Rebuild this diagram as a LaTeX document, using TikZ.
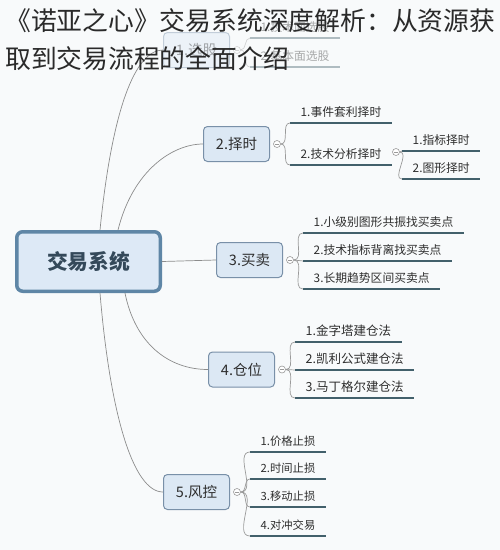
\documentclass[tikz,border=0pt]{standalone}
\usepackage{fontspec}
\newfontfamily\cjk{Noto Sans CJK SC}
\definecolor{bg}{HTML}{F8FAFB}
\definecolor{subfill}{HTML}{DCE8F4}
\definecolor{subline}{HTML}{7990A8}
\definecolor{mainfill}{HTML}{DDE9F6}
\definecolor{mainline}{HTML}{5F86A6}
\definecolor{maintxt}{HTML}{34495A}
\definecolor{ulc}{HTML}{42606B}
\definecolor{connc}{HTML}{8C8C8C}
\definecolor{knobc}{HTML}{9A9A9A}
\definecolor{txt}{HTML}{2E2E2E}
\definecolor{titlec}{HTML}{2A2A2A}
\begin{document}
\begin{tikzpicture}[x=1pt,y=-1pt,font=\cjk,
 subbox/.style={draw=subline, line width=1pt, fill=subfill, rounded corners=4pt,
   minimum width=66pt, minimum height=35pt, inner sep=0pt,
   font=\cjk\fontsize{14.5}{16}\selectfont, text=txt},
 leaf/.style={anchor=south west, inner xsep=10.5pt, inner ysep=5pt,
   font=\cjk\fontsize{11.8}{13}\selectfont, text=txt},
 leafb/.style={leaf, font=\cjk\fontsize{12.5}{14}\selectfont},
 leafs/.style={leaf, font=\cjk\fontsize{11.3}{13}\selectfont},
 uline/.style={draw=ulc, line width=1.8pt},
 conn/.style={draw=connc, line width=0.7pt},
 brace/.style={draw=knobc, line width=0.7pt},
 knob/.style={circle, draw=knobc, fill=white, line width=0.6pt, minimum size=7pt, inner sep=0pt,
   path picture={\draw[knobc, line width=0.5pt] ([xshift=-2pt]path picture bounding box.center) -- ([xshift=2pt]path picture bounding box.center);}},
]
\useasboundingbox[fill=bg] (0,0) rectangle (500,550);

% main node
\node[draw=mainline, line width=3.5pt, fill=mainfill, rounded corners=6pt,
  minimum width=143.5pt, minimum height=59.5pt, inner sep=0pt,
  font=\cjk\bfseries\fontsize{20.75}{24}\selectfont, text=maintxt] (main) at (88.5,261.5) {交易系统};

% faded branch 1
\begin{scope}[opacity=0.4]
\node[subbox] (s1) at (196.5,50) {1.选股};
\node[knob] (k1) at ([xshift=7pt]s1.east) {};
\node[leaf] (c11) at (250,38) {1.技术面选股};
\node[leaf] (c12) at (250,67) {2.基本面选股};
\draw[uline] (c11.south west) -- (c11.south east);
\draw[uline] (c12.south west) -- (c12.south east);
\draw[brace] (k1.east) to[out=0,in=180] (c11.south west);
\draw[brace] (k1.east) to[out=0,in=180] (c12.south west);
\end{scope}
\draw[conn] ([xshift=11.5pt]main.north) .. controls +(12,-120) and +(-28,0) .. (s1.west);

% sub nodes
\node[subbox] (s2) at (236.5,144) {2.择时};
\node[subbox] (s3) at (249.5,260) {3.买卖};
\node[subbox] (s4) at (241.5,369.5) {4.仓位};
\node[subbox] (s5) at (196.5,492) {5.风控};

\draw[conn] ([xshift=29.5pt]main.north) .. controls +(15,-60) and +(-30,0) .. (s2.west);
\draw[conn] (main.east) -- (s3.west);
\draw[conn] ([xshift=36.5pt]main.south) .. controls +(10,50) and +(-40,0) .. (s4.west);
\draw[conn] ([xshift=11.5pt]main.south) .. controls +(10,120) and +(-30,0) .. (s5.west);

% knobs
\node[knob] (k2) at ([xshift=7pt]s2.east) {};
\node[knob] (k3) at ([xshift=7pt]s3.east) {};
\node[knob] (k4) at ([xshift=7pt]s4.east) {};
\node[knob] (k5) at ([xshift=7pt]s5.east) {};

% branch 2
\node[leaf] (c21) at (290,123) {1.事件套利择时};
\node[leaf] (c22) at (290,165) {2.技术分析择时};
\node[knob] (k22) at (396,152) {};
\node[leaf] (c221) at (402,151) {1.指标择时};
\node[leaf] (c222) at (402,179) {2.图形择时};
\foreach \c in {c21,c22,c221,c222}{\draw[uline] (\c.south west) -- (\c.south east);}
\foreach \c in {c21,c22}{\draw[brace] (k2.east) to[out=0,in=180] (\c.south west);}
\foreach \c in {c221,c222}{\draw[brace] (k22.east) to[out=0,in=180] (\c.south west);}

% branch 3
\node[leaf] (c31) at (303,233) {1.小级别图形共振找买卖点};
\node[leaf] (c32) at (303,261) {2.技术指标背离找买卖点};
\node[leaf] (c33) at (303,289) {3.长期趋势区间买卖点};
\foreach \c in {c31,c32,c33}{\draw[uline] (\c.south west) -- (\c.south east);
  \draw[brace] (k3.east) to[out=0,in=180] (\c.south west);}

% branch 4
\node[leafb] (c41) at (295,342) {1.金字塔建仓法};
\node[leafb] (c42) at (295,370) {2.凯利公式建仓法};
\node[leafb] (c43) at (295,398) {3.马丁格尔建仓法};
\foreach \c in {c41,c42,c43}{\draw[uline] (\c.south west) -- (\c.south east);
  \draw[brace] (k4.east) to[out=0,in=180] (\c.south west);}

% branch 5
\node[leafs] (c51) at (250,452) {1.价格止损};
\node[leafs] (c52) at (250,479) {2.时间止损};
\node[leafs] (c53) at (250,507) {3.移动止损};
\node[leafs] (c54) at (250,536) {4.对冲交易};
\foreach \c in {c51,c52,c53,c54}{\draw[uline] (\c.south west) -- (\c.south east);
  \draw[brace] (k5.east) to[out=0,in=180] (\c.south west);}

% title
\node[anchor=base west, inner sep=0pt, font=\cjk\fontsize{25.8}{30}\selectfont, text=titlec] (t1) at (5,30) {《诺亚之心》交易系统深度解析：从资源获};
\node[anchor=base west, inner sep=0pt, font=\cjk\fontsize{25.8}{30}\selectfont, text=titlec] (t2) at (5,68) {取到交易流程的全面介绍};
\end{tikzpicture}
\end{document}
